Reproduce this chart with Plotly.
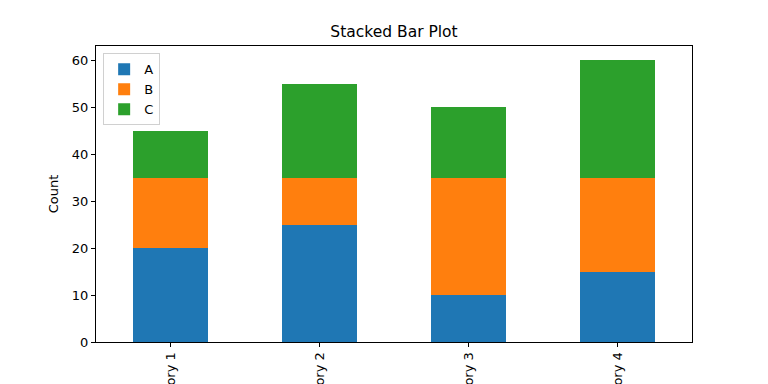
import plotly.graph_objects as go

categories = ["Category 1", "Category 2", "Category 3", "Category 4"]
series_a = [20, 25, 10, 15]
series_b = [15, 10, 25, 20]
series_c = [10, 20, 15, 25]
y_ticks = [0, 10, 20, 30, 40, 50, 60]

colors = {"A": "#1f77b4", "B": "#ff7f0e", "C": "#2ca02c"}
font = "DejaVu Sans"

fig = go.Figure()
for name, vals in [("A", series_a), ("B", series_b), ("C", series_c)]:
    fig.add_trace(go.Bar(x=categories, y=vals, name=name, width=0.5,
                         marker=dict(color=colors[name], line=dict(width=0))))

fig.update_layout(
    barmode="stack",
    width=760, height=376,
    margin=dict(l=88, r=76, t=38, b=42, autoexpand=False),
    paper_bgcolor="white", plot_bgcolor="white",
    font=dict(family=font, size=13, color="black"),
    title=dict(text="Stacked Bar Plot", x=0.5, xref="paper", y=1 - 24 / 376,
               yanchor="middle", xanchor="center",
               font=dict(family=font, size=15.5, color="black")),
    legend=dict(x=0.012, y=0.975, xanchor="left", yanchor="top",
                bordercolor="#d0d0d0", borderwidth=1, bgcolor="rgba(255,255,255,0.8)",
                traceorder="normal", font=dict(family=font, size=13),
                itemwidth=30, tracegroupgap=0),
    showlegend=True,
)
fig.update_xaxes(
    range=[-0.5, 3.5], tickangle=-90, automargin=False,
    showline=True, linecolor="black", linewidth=1, mirror=True,
    ticks="outside", ticklen=4, tickcolor="black", showgrid=False,
    tickfont=dict(family=font, size=13, color="black"),
)
fig.update_yaxes(
    range=[0, 63], tickvals=y_ticks, automargin=False,
    showline=True, linecolor="black", linewidth=1, mirror=True,
    ticks="outside", ticklen=4, tickcolor="black", showgrid=False, zeroline=False,
    tickfont=dict(family=font, size=13, color="black"),
    title=dict(text="Count", font=dict(family=font, size=13, color="black"), standoff=10),
)

fig.write_html("out.html")
